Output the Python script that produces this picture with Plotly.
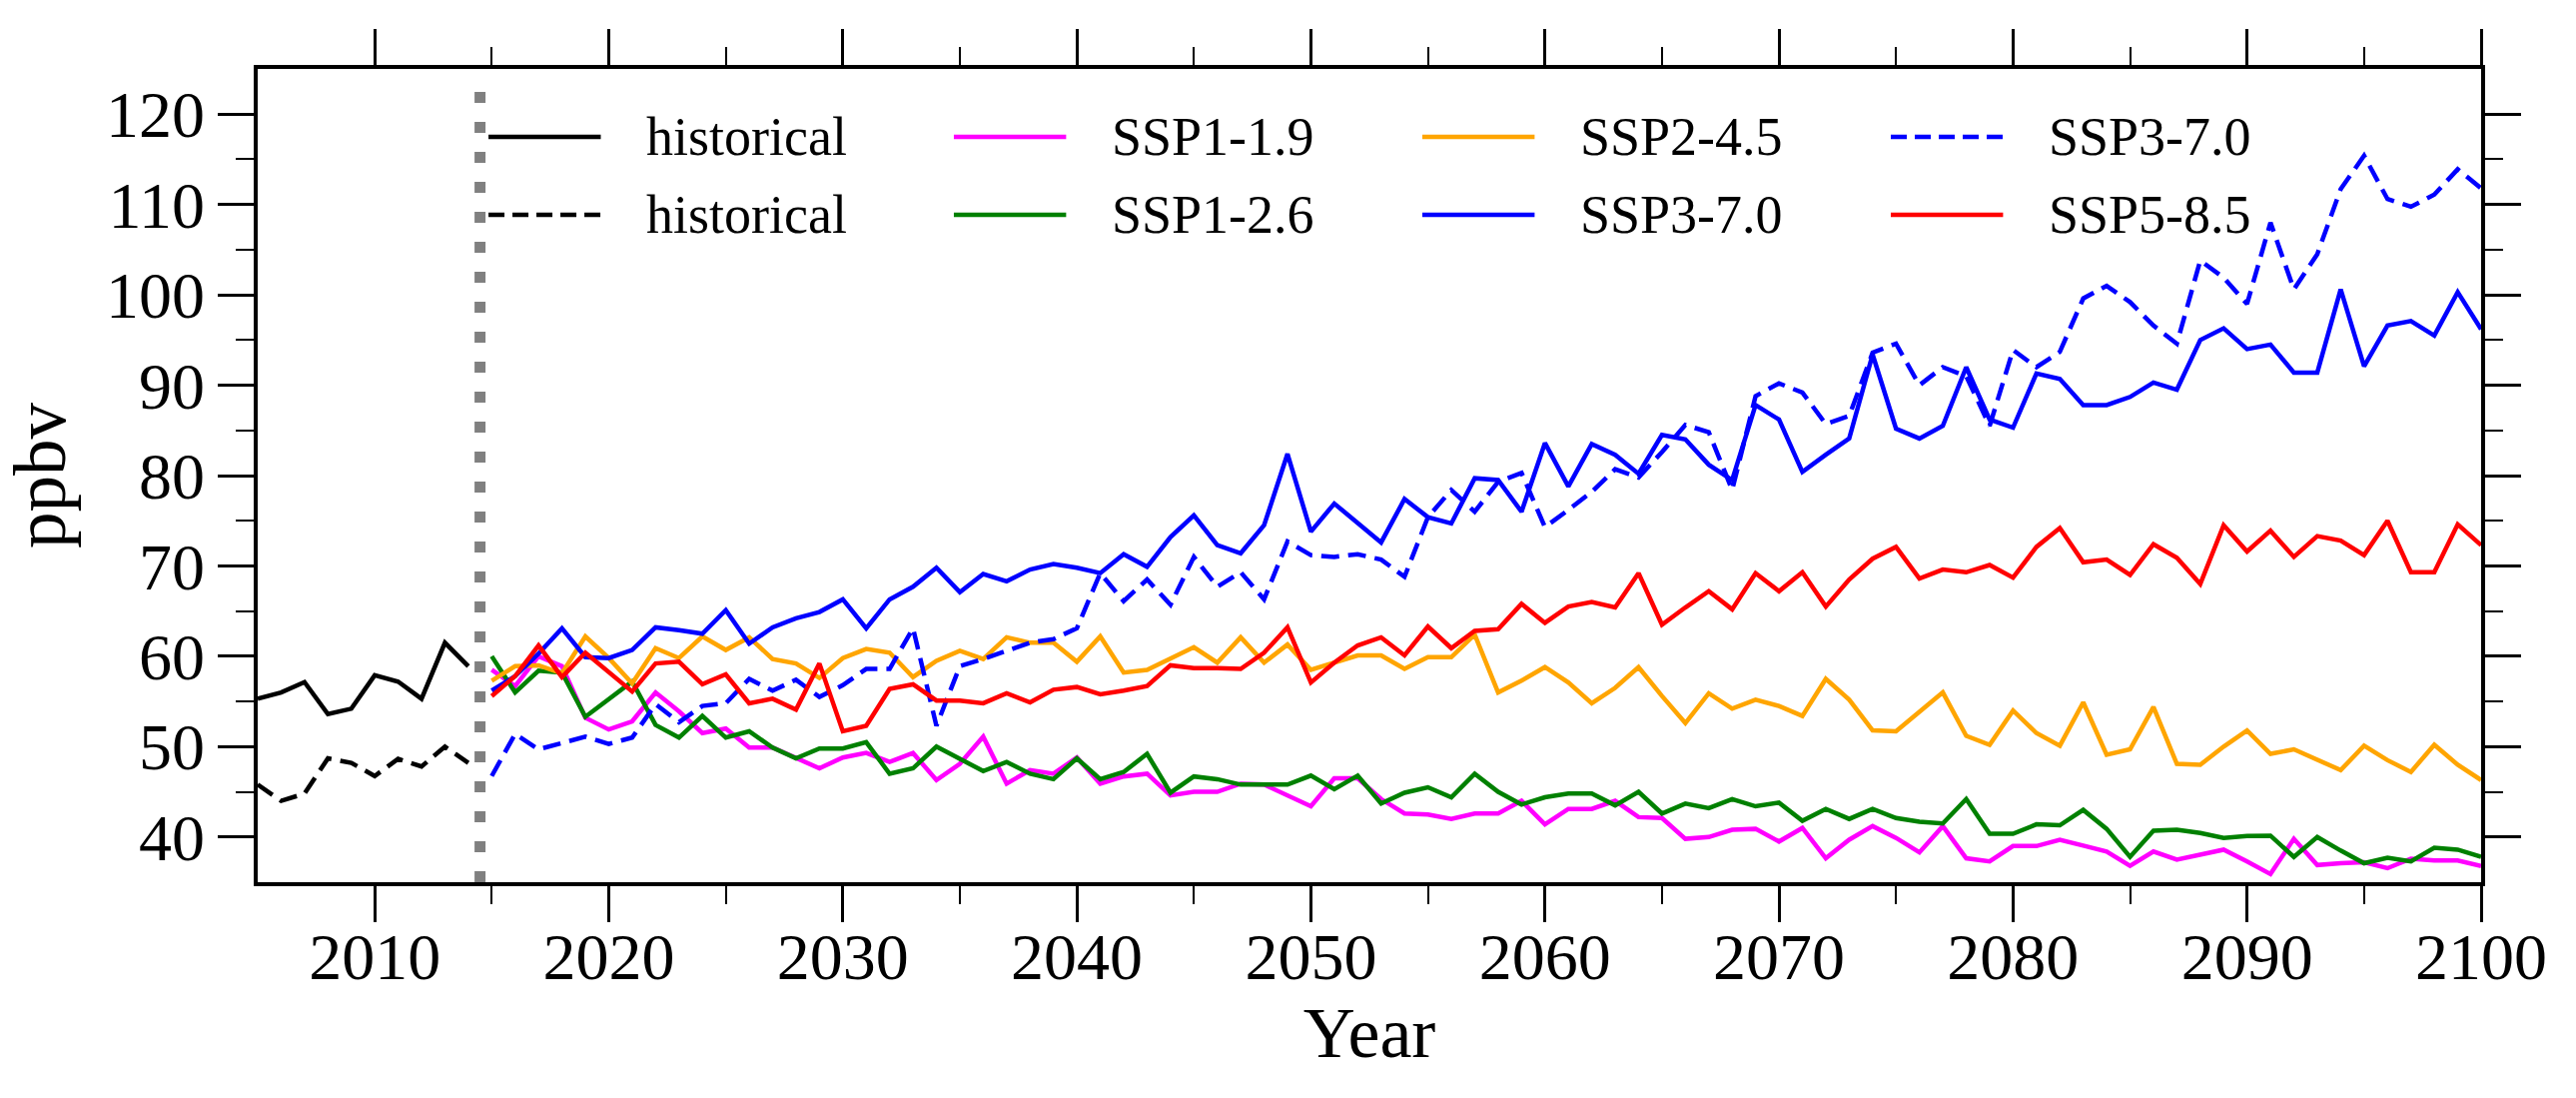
import plotly.graph_objects as go

years_hist = list(range(2005, 2015))
years_ssp = list(range(2015, 2101))

hist_solid = [55.3, 56.0, 57.15, 53.6, 54.2, 57.9, 57.2, 55.3, 61.5, 58.9]
hist_dashed = [45.8, 44.0, 44.8, 48.7, 48.2, 46.75, 48.65, 47.8, 50.0, 48.2]

ssp119 = [58.5, 56.7, 60.0, 58.9, 53.2, 51.9, 52.8, 56.0, 53.9, 51.5, 52.0, 49.9, 49.9,
          48.7, 47.6, 48.8, 49.3, 48.3, 49.3, 46.3, 48.1, 51.1, 45.9, 47.4, 47.0, 48.8, 45.9,
          46.7, 47.0, 44.6, 45.0, 45.0, 45.9, 45.8, 44.6,
          43.4, 46.5, 46.5, 44.2, 42.6, 42.5, 42.0, 42.6, 42.6, 44.0, 41.4, 43.1, 43.1, 44.0,
          42.2, 42.1, 39.8, 40.0, 40.8, 40.9, 39.5, 41.0,
          37.65, 39.7, 41.2, 39.9, 38.3, 41.2, 37.65, 37.3, 39.0, 39.0, 39.7, 39.05, 38.4, 36.8,
          38.4, 37.5, 38.0, 38.6, 37.3, 35.9, 39.8, 36.9, 37.1, 37.2, 36.55, 37.6, 37.4, 37.4, 36.8]

ssp126 = [60.0, 56.0, 58.4, 58.2, 53.3, 55.3, 57.2, 52.4, 51.0, 53.4, 51.0, 51.7, 49.9,
          48.7, 49.8, 49.8, 50.5, 47.0, 47.6, 50.0, 48.6, 47.3, 48.3, 47.0, 46.4, 48.7, 46.4,
          47.2, 49.2, 44.9, 46.7, 46.4, 45.8, 45.8, 45.8,
          46.8, 45.3, 46.8, 43.7, 44.9, 45.5, 44.4, 47.0, 45.0, 43.6, 44.4, 44.8, 44.8, 43.5,
          45.0, 42.6, 43.7, 43.2, 44.2, 43.4, 43.8, 41.8,
          43.1, 42.0, 43.1, 42.1, 41.7, 41.5, 44.2, 40.35, 40.35, 41.4, 41.3, 43.0, 40.9, 37.8,
          40.7, 40.8, 40.45, 39.9, 40.1, 40.15, 37.8, 40.0, 38.5, 37.1, 37.7, 37.3, 38.8, 38.6, 37.8]

ssp245 = [57.3, 58.9, 59.0, 58.1, 62.2, 59.8, 57.0, 60.9, 59.8, 62.2, 60.7, 62.1, 59.7,
          59.2, 57.6, 59.8, 60.8, 60.4, 57.7, 59.5, 60.6, 59.7, 62.1, 61.5, 61.5, 59.4, 62.2,
          58.2, 58.5, 59.7, 61.0, 59.3, 62.1, 59.3, 61.3,
          58.5, 59.3, 60.1, 60.1, 58.6, 59.9, 59.9, 62.4, 56.0, 57.3, 58.8, 57.1, 54.8, 56.5,
          58.8, 55.6, 52.6, 55.9, 54.2, 55.2, 54.5, 53.4,
          57.5, 55.2, 51.8, 51.7, 53.9, 56.0, 51.2, 50.2, 54.0, 51.5, 50.1, 54.9, 49.1, 49.7,
          54.4, 48.1, 48.0, 50.0, 51.8, 49.2, 49.7, 48.6, 47.4, 50.1, 48.5, 47.2, 50.2, 48.0, 46.3]

ssp370 = [56.2, 57.8, 60.3, 63.1, 59.9, 59.8, 60.7, 63.2, 62.9, 62.5, 65.1, 61.4, 63.2,
          64.2, 64.9, 66.3, 63.1, 66.3, 67.7, 69.8, 67.1, 69.1, 68.3, 69.6, 70.2, 69.8, 69.2,
          71.3, 69.9, 73.2, 75.6, 72.3, 71.4, 74.5, 82.4,
          73.8, 76.9, 74.8, 72.6, 77.4, 75.4, 74.7, 79.7, 79.5, 76.0, 83.6, 78.8, 83.5, 82.3,
          80.2, 84.5, 84.0, 81.2, 79.5, 87.8, 86.2, 80.4,
          82.3, 84.1, 93.4, 85.2, 84.1, 85.5, 92.0, 86.2, 85.3, 91.3, 90.7, 87.8, 87.8, 88.7,
          90.3, 89.5, 95.0, 96.3, 94.0, 94.5, 91.4, 91.4, 100.6, 92.1, 96.6, 97.1, 95.5, 100.3, 96.2]

ssp370_dashed = [46.75, 51.4, 49.7, 50.4, 51.1, 50.3, 51.0, 54.7, 52.7, 54.5, 54.8, 57.5, 56.2,
                 57.4, 55.5, 56.8, 58.6, 58.6, 63.1, 52.3, 58.9, 59.7, 60.6, 61.5, 61.9, 63.1, 69.2,
                 66.1, 68.5, 65.7, 71.0, 67.7, 69.3, 66.3, 72.7,
                 71.2, 71.0, 71.3, 70.7, 68.8, 75.4, 78.4, 76.0, 79.3, 80.3, 74.3, 76.2, 78.2, 80.7,
                 79.8, 82.6, 85.6, 84.8, 78.4, 88.8, 90.2, 89.2,
                 85.7, 86.6, 93.6, 94.6, 90.0, 92.0, 91.0, 85.5, 93.9, 92.0, 93.7, 99.6, 101.0, 99.2,
                 96.6, 94.6, 103.8, 101.9, 99.0, 108.0, 100.6, 104.5, 111.7, 115.4, 110.6, 109.75,
                 111.1, 113.9, 111.8]

ssp585 = [55.6, 57.8, 61.2, 57.7, 60.4, 58.2, 56.1, 59.2, 59.4, 56.9, 58.0, 54.8, 55.3,
          54.1, 59.2, 51.7, 52.3, 56.4, 56.9, 55.1, 55.1, 54.8, 55.9, 54.9, 56.3, 56.6, 55.8,
          56.2, 56.7, 59.0, 58.7, 58.7, 58.6, 60.4, 63.2,
          57.1, 59.3, 61.2, 62.1, 60.1, 63.3, 60.9, 62.8, 63.0, 65.8, 63.7, 65.5, 66.0, 65.4,
          69.2, 63.5, 65.4, 67.2, 65.2, 69.2, 67.2, 69.3,
          65.5, 68.5, 70.8, 72.1, 68.6, 69.6, 69.3, 70.1, 68.7, 72.1, 74.2, 70.4, 70.7, 69.0,
          72.4, 70.9, 68.0, 74.5, 71.6, 73.9, 71.0, 73.3, 72.8, 71.2, 75.0, 69.3, 69.3, 74.6, 72.3]

x_major_ticks = [2010, 2020, 2030, 2040, 2050, 2060, 2070, 2080, 2090, 2100]
x_minor_ticks = [2015, 2025, 2035, 2045, 2055, 2065, 2075, 2085, 2095]
y_major_ticks = [40, 50, 60, 70, 80, 90, 100, 110, 120]
y_minor_ticks = [45, 55, 65, 75, 85, 95, 105, 115]

divider_year = 2014.5

FONT = "Liberation Serif, Times New Roman, serif"
LW = 4.5
DASH = "18px,9px"

series = [
    ("historical", years_hist, hist_solid, "black", "solid"),
    ("historical", years_hist, hist_dashed, "black", DASH),
    ("SSP1-1.9", years_ssp, ssp119, "#FF00FF", "solid"),
    ("SSP1-2.6", years_ssp, ssp126, "#008000", "solid"),
    ("SSP2-4.5", years_ssp, ssp245, "#FFA500", "solid"),
    ("SSP3-7.0", years_ssp, ssp370, "#0000FF", "solid"),
    ("SSP3-7.0", years_ssp, ssp370_dashed, "#0000FF", DASH),
    ("SSP5-8.5", years_ssp, ssp585, "#FF0000", "solid"),
]

fig = go.Figure()
for name, xs, ys, color, dash in series:
    fig.add_trace(go.Scatter(x=xs, y=ys, mode="lines", name=name, showlegend=False,
                             line=dict(color=color, width=LW, dash=dash)))

# vertical divider between historical and scenario periods
fig.add_shape(type="line", xref="x", yref="paper", x0=divider_year, x1=divider_year,
              y0=0, y1=0.98, line=dict(color="#808080", width=11, dash="11px,19px"))

# custom legend (4 columns x 2 rows)
legend_layout = [
    (0, 0, 0), (1, 0, 1),
    (2, 1, 0), (3, 1, 1),
    (4, 2, 0), (5, 2, 1),
    (6, 3, 0), (7, 3, 1),
]
col_x0 = [0.1038, 0.3131, 0.5238, 0.7345]
sample_len = 0.0505
text_gap = 0.0195
row_y = [0.9165, 0.8206]
for idx, col, row in legend_layout:
    name, _, _, color, dash = series[idx]
    x0 = col_x0[col]
    fig.add_shape(type="line", xref="paper", yref="paper", x0=x0, x1=x0 + sample_len,
                  y0=row_y[row], y1=row_y[row],
                  line=dict(color=color, width=LW, dash="16px,8px" if dash != "solid" else "solid"))
    fig.add_annotation(xref="paper", yref="paper", x=x0 + sample_len + text_gap, y=row_y[row],
                       text=name, showarrow=False, xanchor="left", yanchor="middle",
                       font=dict(family=FONT, size=54, color="black"))

axis_common = dict(
    showline=True, linecolor="black", linewidth=3.5, mirror="allticks",
    ticks="outside", ticklen=36, tickwidth=3, tickcolor="black",
    showgrid=False, zeroline=False, tickmode="array",
    tickfont=dict(family=FONT, size=66, color="black"),
)

fig.update_xaxes(range=[2005, 2100], tickvals=x_major_ticks,
                 ticktext=[str(v) for v in x_major_ticks],
                 ticklabelstandoff=-22,
                 minor=dict(tickmode="array", tickvals=x_minor_ticks, ticks="outside", ticklen=18,
                            tickwidth=2, tickcolor="black", showgrid=False),
                 title=dict(text="Year", font=dict(family=FONT, size=72, color="black"), standoff=10),
                 **axis_common)
fig.update_yaxes(range=[35, 125], tickvals=y_major_ticks,
                 ticktext=[str(v) for v in y_major_ticks],
                 minor=dict(tickmode="array", tickvals=y_minor_ticks, ticks="outside", ticklen=18,
                            tickwidth=2, tickcolor="black", showgrid=False),
                 title=dict(text="ppbv", font=dict(family=FONT, size=73, color="black"), standoff=20),
                 **axis_common)

fig.update_layout(
    width=2579, height=1099,
    margin=dict(l=258, r=95, t=69, b=216, pad=0),
    plot_bgcolor="white", paper_bgcolor="white",
    font=dict(family=FONT, color="black"),
)

fig.write_html("out.html", config={"displayModeBar": False},
               post_script="document.body.style.margin='0';document.body.style.overflow='hidden';")
